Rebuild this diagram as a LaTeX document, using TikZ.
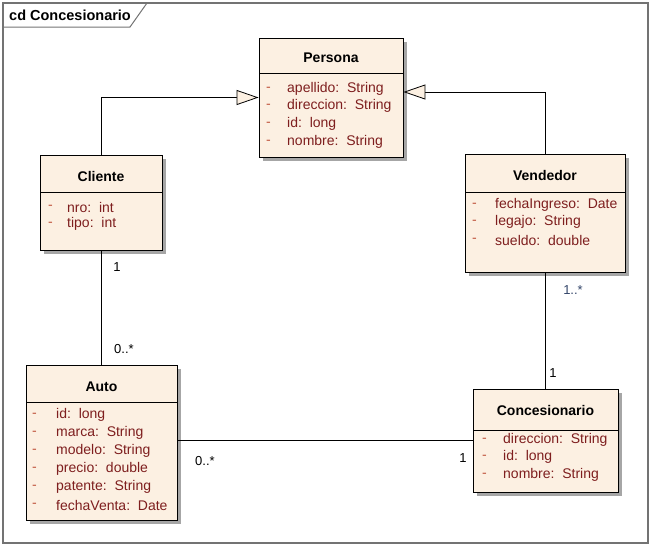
\documentclass[tikz,border=0pt]{standalone}
\usepackage{fontspec}
\setmainfont{Liberation Sans}
\usetikzlibrary{arrows.meta,shadows}
\definecolor{boxfill}{HTML}{FCF0E2}
\definecolor{attr}{HTML}{7E1E1E}
\definecolor{dashc}{HTML}{C0563E}
\definecolor{multb}{HTML}{34466A}
\begin{document}
\begin{tikzpicture}[x=1pt,y=-1pt,
  cls/.style={draw=black, line width=0.9pt, fill=boxfill, inner sep=0pt,
    drop shadow={shadow xshift=3.5pt, shadow yshift=-3.5pt, fill=black!35, opacity=1}},
  ttl/.style={font=\fontsize{14}{16}\selectfont\bfseries, inner sep=0pt},
  attrtxt/.style={font=\fontsize{14}{16}\selectfont, text=attr, anchor=west, inner sep=0pt},
  dsh/.style={font=\fontsize{14}{16}\selectfont, text=dashc, anchor=west, inner sep=0pt},
  mult/.style={font=\fontsize{13}{15}\selectfont, inner sep=0pt},
  conn/.style={draw=black, line width=0.9pt},
  gen/.style={conn, -{Triangle[length=22pt,width=15pt,fill=boxfill,line width=0.8pt]}},
  divl/.style={draw=black, line width=0.8pt}
]
\useasboundingbox (0,0) rectangle (652,547);
% frame
\draw[draw=black!55, line width=1.2pt] (3,3) rectangle (648,543);
\draw[draw=black!55, line width=1pt] (3,27) -- (130,27) -- (147,3);
\node[font=\fontsize{14.5}{16}\selectfont\bfseries, anchor=west, inner sep=0pt] (frt) at (9,15) {cd Concesionario};

% Persona
\node[cls, minimum width=144pt, minimum height=119pt] (persona) at (331,97.5) {};
\draw[divl] (259,73) -- (403,73);
\node[ttl] (persona-t) at (331,58) {Persona};
\foreach \yy/\tx [count=\i] in {89/{apellido:\ \ String},106/{direccion:\ \ String},124/{id:\ \ long},142/{nombre:\ \ String}}{
  \node[dsh] (persona-d\i) at (266,\yy) {-};
  \node[attrtxt] (persona-a\i) at (287,\yy) {\tx};
}

% Cliente
\node[cls, minimum width=122pt, minimum height=95pt] (cliente) at (101,202.5) {};
\draw[divl] (40,192) -- (162,192);
\node[ttl] (cliente-t) at (101,176) {Cliente};
\foreach \yy/\tx [count=\i] in {207/{nro:\ \ int},224/{tipo:\ \ int}}{
  \node[dsh] (cliente-d\i) at (48,\yy) {-};
  \node[attrtxt] (cliente-a\i) at (67,\yy) {\tx};
}

% Vendedor
\node[cls, minimum width=160pt, minimum height=118pt] (vendedor) at (545,213) {};
\draw[divl] (465,192) -- (625,192);
\node[ttl] (vendedor-t) at (545,175) {Vendedor};
\foreach \yy/\tx [count=\i] in {205/{fechaIngreso:\ \ Date},222/{legajo:\ \ String},240/{sueldo:\ \ double}}{
  \node[dsh] (vendedor-d\i) at (472,\yy) {-};
  \node[attrtxt] (vendedor-a\i) at (495,\yy) {\tx};
}

% Auto
\node[cls, minimum width=151pt, minimum height=155pt] (auto) at (101.5,442.5) {};
\draw[divl] (26,402) -- (177,402);
\node[ttl] (auto-t) at (101.5,387) {Auto};
\foreach \yy/\tx [count=\i] in {415/{id:\ \ long},433/{marca:\ \ String},451/{modelo:\ \ String},469/{precio:\ \ double},487/{patente:\ \ String},505/{fechaVenta:\ \ Date}}{
  \node[dsh] (auto-d\i) at (32,\yy) {-};
  \node[attrtxt] (auto-a\i) at (56,\yy) {\tx};
}

% Concesionario
\node[cls, minimum width=145pt, minimum height=103pt] (conc) at (545.5,440.5) {};
\draw[divl] (473,430) -- (618,430);
\node[ttl] (conc-t) at (545.5,410) {Concesionario};
\foreach \yy/\tx [count=\i] in {440/{direccion:\ \ String},457/{id:\ \ long},475/{nombre:\ \ String}}{
  \node[dsh] (conc-d\i) at (482,\yy) {-};
  \node[attrtxt] (conc-a\i) at (503,\yy) {\tx};
}

% generalizations
\draw[gen] (cliente.north) |- (persona.west);
\draw[gen] (vendedor.north) |- ([yshift=5.5pt]persona.east);

% associations
\draw[conn] (cliente.south) -- (cliente.south |- auto.north);
\draw[conn] (vendedor.south) -- (vendedor.south |- conc.north);
\draw[conn] (conc.west) -- (conc.west -| auto.east);

% multiplicities
\node[mult] (m1) at (117,267) {1};
\node[mult] (m2) at (124,349) {0..*};
\node[mult, text=multb] (m3) at (573,290) {1..*};
\node[mult] (m4) at (553,373) {1};
\node[mult] (m5) at (205,461) {0..*};
\node[mult] (m6) at (463,458) {1};
\end{tikzpicture}
\end{document}
